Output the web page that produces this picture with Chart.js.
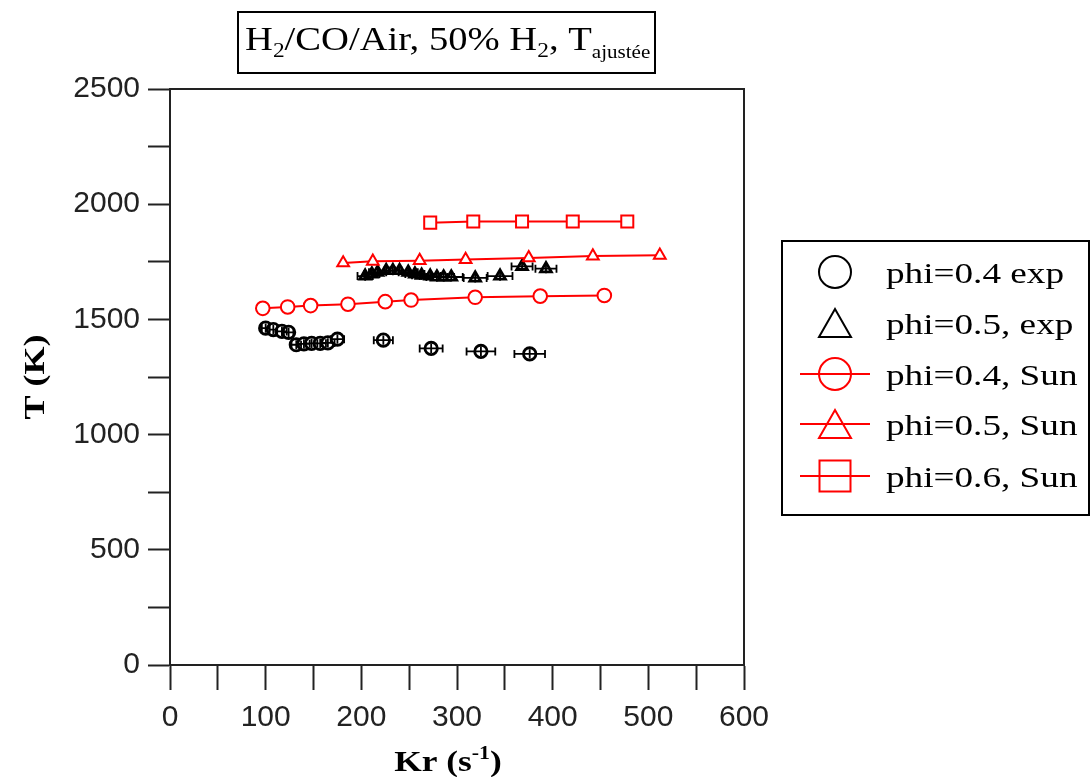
<!DOCTYPE html>
<html><head><meta charset="utf-8">
<script src="https://cdn.jsdelivr.net/npm/chart.js@4/dist/chart.umd.min.js"></script>
<style>html,body{margin:0;padding:0;background:#fff;}#wrap{width:1092px;height:777px;position:relative;}canvas{display:block;}</style>
</head><body><div id="wrap"><canvas id="c" width="1092" height="777"></canvas></div>
<script>
// ---- data ----
const phi04ExpKr  = [100, 108, 117, 124, 132, 140, 148, 157, 165, 175, 223, 273, 325, 376];
const phi04ExpT   = [1462, 1456, 1448, 1444, 1390, 1394, 1396, 1396, 1398, 1414, 1410, 1374, 1361, 1350];
const phi04ExpKrErr = [4, 4, 5, 5, 5, 6, 6, 6, 7, 7, 10, 12, 15, 16];
const phi04ExpTErr  = [20, 20, 20, 20, 20, 20, 20, 20, 20, 20, 20, 20, 20, 20];

const phi05ExpKr  = [204, 211, 217, 226, 233, 240, 249, 256, 263, 272, 279, 286, 294, 319, 345, 368, 393];
const phi05ExpT   = [1688, 1697, 1705, 1712, 1712, 1712, 1705, 1697, 1692, 1688, 1684, 1684, 1684, 1680, 1688, 1730, 1720];
const phi05ExpKrErr = [8, 8, 9, 9, 9, 10, 10, 10, 10, 11, 11, 11, 12, 12, 13, 11, 11];
const phi05ExpTErr  = [20, 20, 20, 20, 20, 20, 20, 20, 20, 20, 20, 20, 20, 20, 20, 20, 20];

const phi04SunKr = [97, 123, 147, 186, 225, 252, 319, 387, 454];
const phi04SunT  = [1548, 1554, 1560, 1566, 1577, 1584, 1596, 1601, 1604];
const phi05SunKr = [181, 212, 261, 309, 375, 442, 512];
const phi05SunT  = [1745, 1752, 1755, 1760, 1767, 1775, 1778];
const phi06SunKr = [272, 317, 368, 421, 478];
const phi06SunT  = [1920, 1925, 1925, 1925, 1925];

const seriesLabels = ['phi=0.4 exp', 'phi=0.5, exp', 'phi=0.4, Sun', 'phi=0.5, Sun', 'phi=0.6, Sun'];
const xTickValues = [0, 100, 200, 300, 400, 500, 600];
const yTickValues = [0, 500, 1000, 1500, 2000, 2500];

const pts = (xs, ys) => xs.map((x, i) => ({x, y: ys[i]}));

const SERIF = '"Liberation Serif", "Times New Roman", serif';
const SANS = '"Liberation Sans", Arial, sans-serif';

function drawRich(ctx, segs, x, y, sx, align) {
  let w = 0;
  segs.forEach(s => { ctx.font = s.font; s.w = ctx.measureText(s.t).width; w += s.w; });
  ctx.save();
  ctx.translate(x, y);
  ctx.scale(sx, 1);
  let cx = align === 'center' ? -w / 2 : 0;
  ctx.textBaseline = 'alphabetic';
  ctx.textAlign = 'left';
  segs.forEach(s => { ctx.font = s.font; ctx.fillText(s.t, cx, s.dy || 0); cx += s.w; });
  ctx.restore();
}

const errorBars = [
  {kr: phi04ExpKr, t: phi04ExpT, ke: phi04ExpKrErr, te: phi04ExpTErr},
  {kr: phi05ExpKr, t: phi05ExpT, ke: phi05ExpKrErr, te: phi05ExpTErr}
];

const decor = {
  id: 'decor',
  afterDatasetsDraw(chart) {
    const ctx = chart.ctx, xs = chart.scales.x, ys = chart.scales.y;
    ctx.save();
    ctx.strokeStyle = '#000';
    ctx.lineWidth = 1.8;
    errorBars.forEach(e => {
      e.kr.forEach((k, i) => {
        const px = xs.getPixelForValue(k), py = ys.getPixelForValue(e.t[i]);
        const x1 = xs.getPixelForValue(k - e.ke[i]), x2 = xs.getPixelForValue(k + e.ke[i]);
        const y1 = ys.getPixelForValue(e.t[i] + e.te[i]), y2 = ys.getPixelForValue(e.t[i] - e.te[i]);
        ctx.beginPath();
        ctx.moveTo(x1, py); ctx.lineTo(x2, py);
        ctx.moveTo(x1, py - 4); ctx.lineTo(x1, py + 4);
        ctx.moveTo(x2, py - 4); ctx.lineTo(x2, py + 4);
        ctx.moveTo(px, y1); ctx.lineTo(px, y2);
        ctx.stroke();
      });
    });
    ctx.restore();
  },
  afterDraw(chart) {
    const ctx = chart.ctx, a = chart.chartArea;
    ctx.save();
    // frame
    ctx.strokeStyle = '#222';
    ctx.lineWidth = 2;
    ctx.strokeRect(a.left, a.top, a.right - a.left, a.bottom - a.top);

    ctx.fillStyle = '#000';
    // title box
    ctx.strokeStyle = '#000';
    ctx.lineWidth = 2;
    ctx.strokeRect(238, 12, 417, 61);
    const big = '33px ' + SERIF, sub = '20px ' + SERIF, sub2 = '18px ' + SERIF;
    drawRich(ctx, [
      {t: 'H', font: big}, {t: '2', font: sub, dy: 7},
      {t: '/CO/Air, 50% H', font: big}, {t: '2', font: sub, dy: 7},
      {t: ', T', font: big}, {t: 'ajustée', font: sub2, dy: 8}
    ], 245, 50, 1.17, 'left');

    // axis titles
    ctx.save();
    ctx.translate(34, 377);
    ctx.rotate(-Math.PI / 2);
    drawRich(ctx, [{t: 'T (K)', font: 'bold 29px ' + SERIF}], 0, 10, 1.24, 'center');
    ctx.restore();
    drawRich(ctx, [
      {t: 'Kr (s', font: 'bold 29px ' + SERIF},
      {t: '-1', font: 'bold 18px ' + SERIF, dy: -12},
      {t: ')', font: 'bold 29px ' + SERIF}
    ], 448, 771, 1.22, 'center');

    // legend
    ctx.lineWidth = 2;
    ctx.strokeStyle = '#000';
    ctx.strokeRect(782, 241, 307, 274);
    const rows = [272, 323, 374, 424, 476];
    const mx = 835;
    rows.forEach((ry, i) => {
      const red = i >= 2;
      ctx.strokeStyle = red ? '#ff0000' : '#000';
      ctx.lineWidth = 2;
      if (red) {
        ctx.beginPath(); ctx.moveTo(800, ry); ctx.lineTo(870, ry); ctx.stroke();
      }
      ctx.beginPath();
      if (i === 0 || i === 2) {
        ctx.arc(mx, ry, 16, 0, Math.PI * 2);
      } else if (i === 1 || i === 3) {
        ctx.moveTo(mx, ry - 14); ctx.lineTo(mx + 16, ry + 14); ctx.lineTo(mx - 16, ry + 14); ctx.closePath();
      } else {
        ctx.rect(mx - 15.5, ry - 15.5, 31, 31);
      }
      ctx.stroke();
      ctx.fillStyle = '#000';
      drawRich(ctx, [{t: seriesLabels[i], font: '30px ' + SERIF}], 886, ry + 11, 1.24, 'left');
    });
    ctx.restore();
  }
};

const blackCommon = {showLine: false, borderColor: '#000', backgroundColor: '#fff', pointBorderWidth: 2.8, pointRadius: 6.2, pointHoverRadius: 6.2};
const redCommon = {showLine: true, borderColor: '#ff0000', backgroundColor: '#fff', borderWidth: 2, pointBorderWidth: 2, tension: 0, pointBorderColor: '#ff0000', pointBackgroundColor: '#fff'};

new Chart(document.getElementById('c'), {
  type: 'scatter',
  data: {
    datasets: [
      Object.assign({label: seriesLabels[2], data: pts(phi04SunKr, phi04SunT), pointStyle: 'circle', pointRadius: 6.8}, redCommon),
      Object.assign({label: seriesLabels[3], data: pts(phi05SunKr, phi05SunT), pointStyle: 'triangle', pointRadius: 6.8}, redCommon),
      Object.assign({label: seriesLabels[4], data: pts(phi06SunKr, phi06SunT), pointStyle: 'rect', pointRadius: 8.5}, redCommon),
      Object.assign({label: seriesLabels[0], data: pts(phi04ExpKr, phi04ExpT), pointStyle: 'circle'}, blackCommon),
      Object.assign({label: seriesLabels[1], data: pts(phi05ExpKr, phi05ExpT), pointStyle: 'triangle'}, blackCommon)
    ]
  },
  options: {
    responsive: false,
    animation: false,
    devicePixelRatio: 1,
    layout: {padding: {left: 0, top: 89, right: 348, bottom: 0}},
    plugins: {legend: {display: false}, tooltip: {enabled: false}, title: {display: false}},
    scales: {
      x: {
        type: 'linear', min: 0, max: 600,
        afterFit: s => { s.height = 112; },
        afterBuildTicks: s => { s.ticks = [0,50,100,150,200,250,300,350,400,450,500,550,600].map(v => ({value: v})); },
        ticks: {autoSkip: false, maxRotation: 0, padding: 10, color: '#222', font: {family: SANS, size: 30},
          callback: v => xTickValues.includes(v) ? String(v) : ''},
        grid: {drawOnChartArea: false, drawTicks: true, tickLength: 25, tickWidth: 2, tickColor: '#222'},
        border: {display: true, color: '#222', width: 2}
      },
      y: {
        type: 'linear', min: 0, max: 2500,
        afterFit: s => { s.width = 170; },
        afterBuildTicks: s => { s.ticks = [0,250,500,750,1000,1250,1500,1750,2000,2250,2500].map(v => ({value: v})); },
        ticks: {autoSkip: false, padding: 8, color: '#222', font: {family: SANS, size: 30},
          callback: v => yTickValues.includes(v) ? String(v) : ''},
        grid: {drawOnChartArea: false, drawTicks: true, tickLength: 22, tickWidth: 2, tickColor: '#222'},
        border: {display: true, color: '#222', width: 2}
      }
    }
  },
  plugins: [decor]
});
</script></body></html>
